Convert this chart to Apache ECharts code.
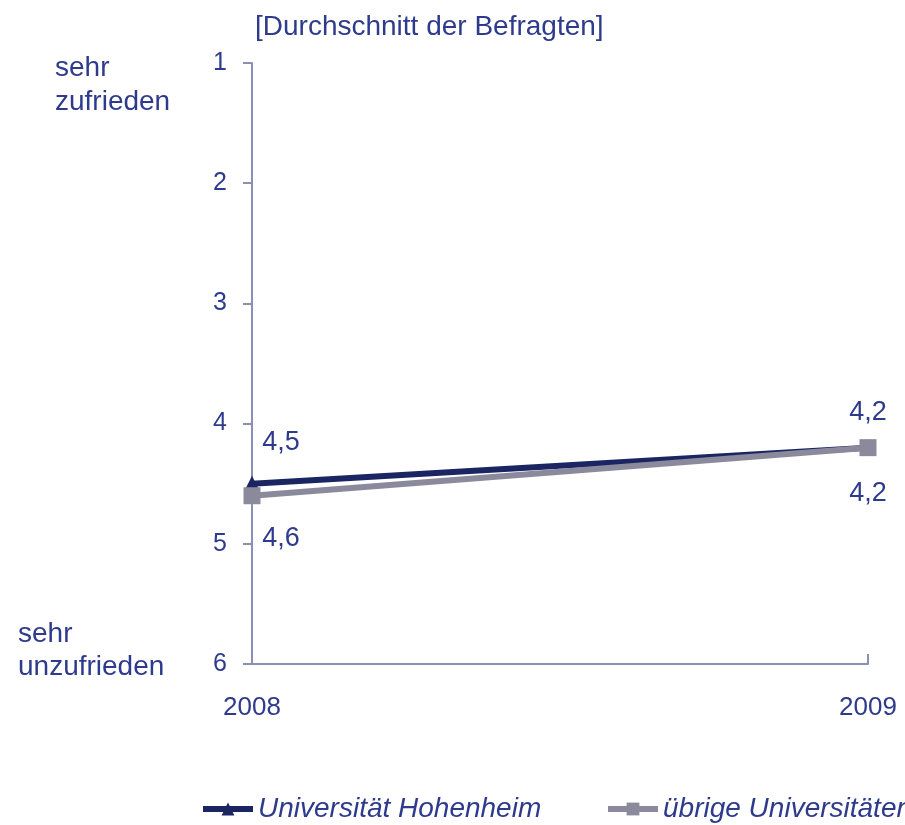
<!DOCTYPE html>
<html>
<head>
<meta charset="utf-8">
<script src="https://cdn.jsdelivr.net/npm/echarts@6/dist/echarts.min.js"></script>
<style>html,body{margin:0;padding:0;background:#fff}#c{width:905px;height:825px}</style>
</head>
<body>
<div id="c"></div>
<script>
const categories = ['2008', '2009'];
const hohenheim = [4.5, 4.2];
const uebrige = [4.6, 4.2];
const seriesNames = ['Universität Hohenheim', 'übrige Universitäten'];
const yTicks = [1, 2, 3, 4, 5, 6];

const TXT = '#2e3b8c';
const AX = '#8b8fb3';
const FONT = 'Liberation Sans, Arial, sans-serif';
const fmt = v => String(v).replace('.', ',');

const legendBase = {
  top: 795, padding: 0, itemWidth: 50, itemHeight: 16,
  lineStyle: { width: 6 },
  textStyle: { color: TXT, fontSize: 28, fontStyle: 'italic', fontFamily: FONT }
};

const chart = echarts.init(document.getElementById('c'));
chart.setOption({
  animation: false,
  grid: { left: 252, right: 37, top: 63, bottom: 161 },
  xAxis: {
    type: 'category', data: categories, boundaryGap: false,
    axisLine: { lineStyle: { color: AX, width: 2 } },
    axisTick: { inside: true, length: 10, lineStyle: { color: AX, width: 2 } },
    axisLabel: { color: TXT, fontSize: 26, fontFamily: FONT, margin: 31 }
  },
  yAxis: {
    type: 'value', inverse: true, min: yTicks[0], max: yTicks[yTicks.length - 1], interval: 1,
    axisLine: { show: true, lineStyle: { color: AX, width: 2 } },
    axisTick: { show: true, length: 9, lineStyle: { color: AX, width: 2 } },
    splitLine: { show: false },
    axisLabel: { color: TXT, fontSize: 25, fontFamily: FONT, margin: 25 }
  },
  legend: [
    Object.assign({ left: 200, data: [seriesNames[0]] }, legendBase),
    Object.assign({ left: 605, width: 600, data: [seriesNames[1]] }, legendBase)
  ],
  graphic: [
    { type: 'text', left: 255, top: 13, style: { text: '[Durchschnitt der Befragten]', fill: TXT, font: '28px ' + FONT } },
    { type: 'text', left: 55, top: 51, style: { text: 'sehr\nzufrieden', fill: TXT, font: '28px ' + FONT, lineHeight: 34 } },
    { type: 'text', left: 18, top: 618, style: { text: 'sehr\nunzufrieden', fill: TXT, font: '28px ' + FONT, lineHeight: 33 } }
  ],
  series: [
    {
      name: seriesNames[1], type: 'line', data: uebrige.map((v, i) => ({
        value: v,
        label: { offset: i === 0 ? [29, 16] : [0, 19] }
      })),
      color: '#8a8a9c', symbol: 'rect', symbolSize: 17,
      lineStyle: { width: 6, color: '#8a8a9c' }, itemStyle: { color: '#8a8a9c' },
      label: { show: true, position: 'bottom', color: TXT, fontSize: 27, fontFamily: FONT, formatter: p => fmt(p.value) },
      z: 2
    },
    {
      name: seriesNames[0], type: 'line', data: hohenheim.map((v, i) => ({
        value: v,
        label: { offset: i === 0 ? [29, -15] : [0, -9] }
      })),
      color: '#1b2561', symbol: 'triangle', symbolSize: 16,
      lineStyle: { width: 6, color: '#1b2561' }, itemStyle: { color: '#1b2561' },
      label: { show: true, position: 'top', color: TXT, fontSize: 27, fontFamily: FONT, formatter: p => fmt(p.value) },
      z: 1
    }
  ]
});
</script>
</body>
</html>
